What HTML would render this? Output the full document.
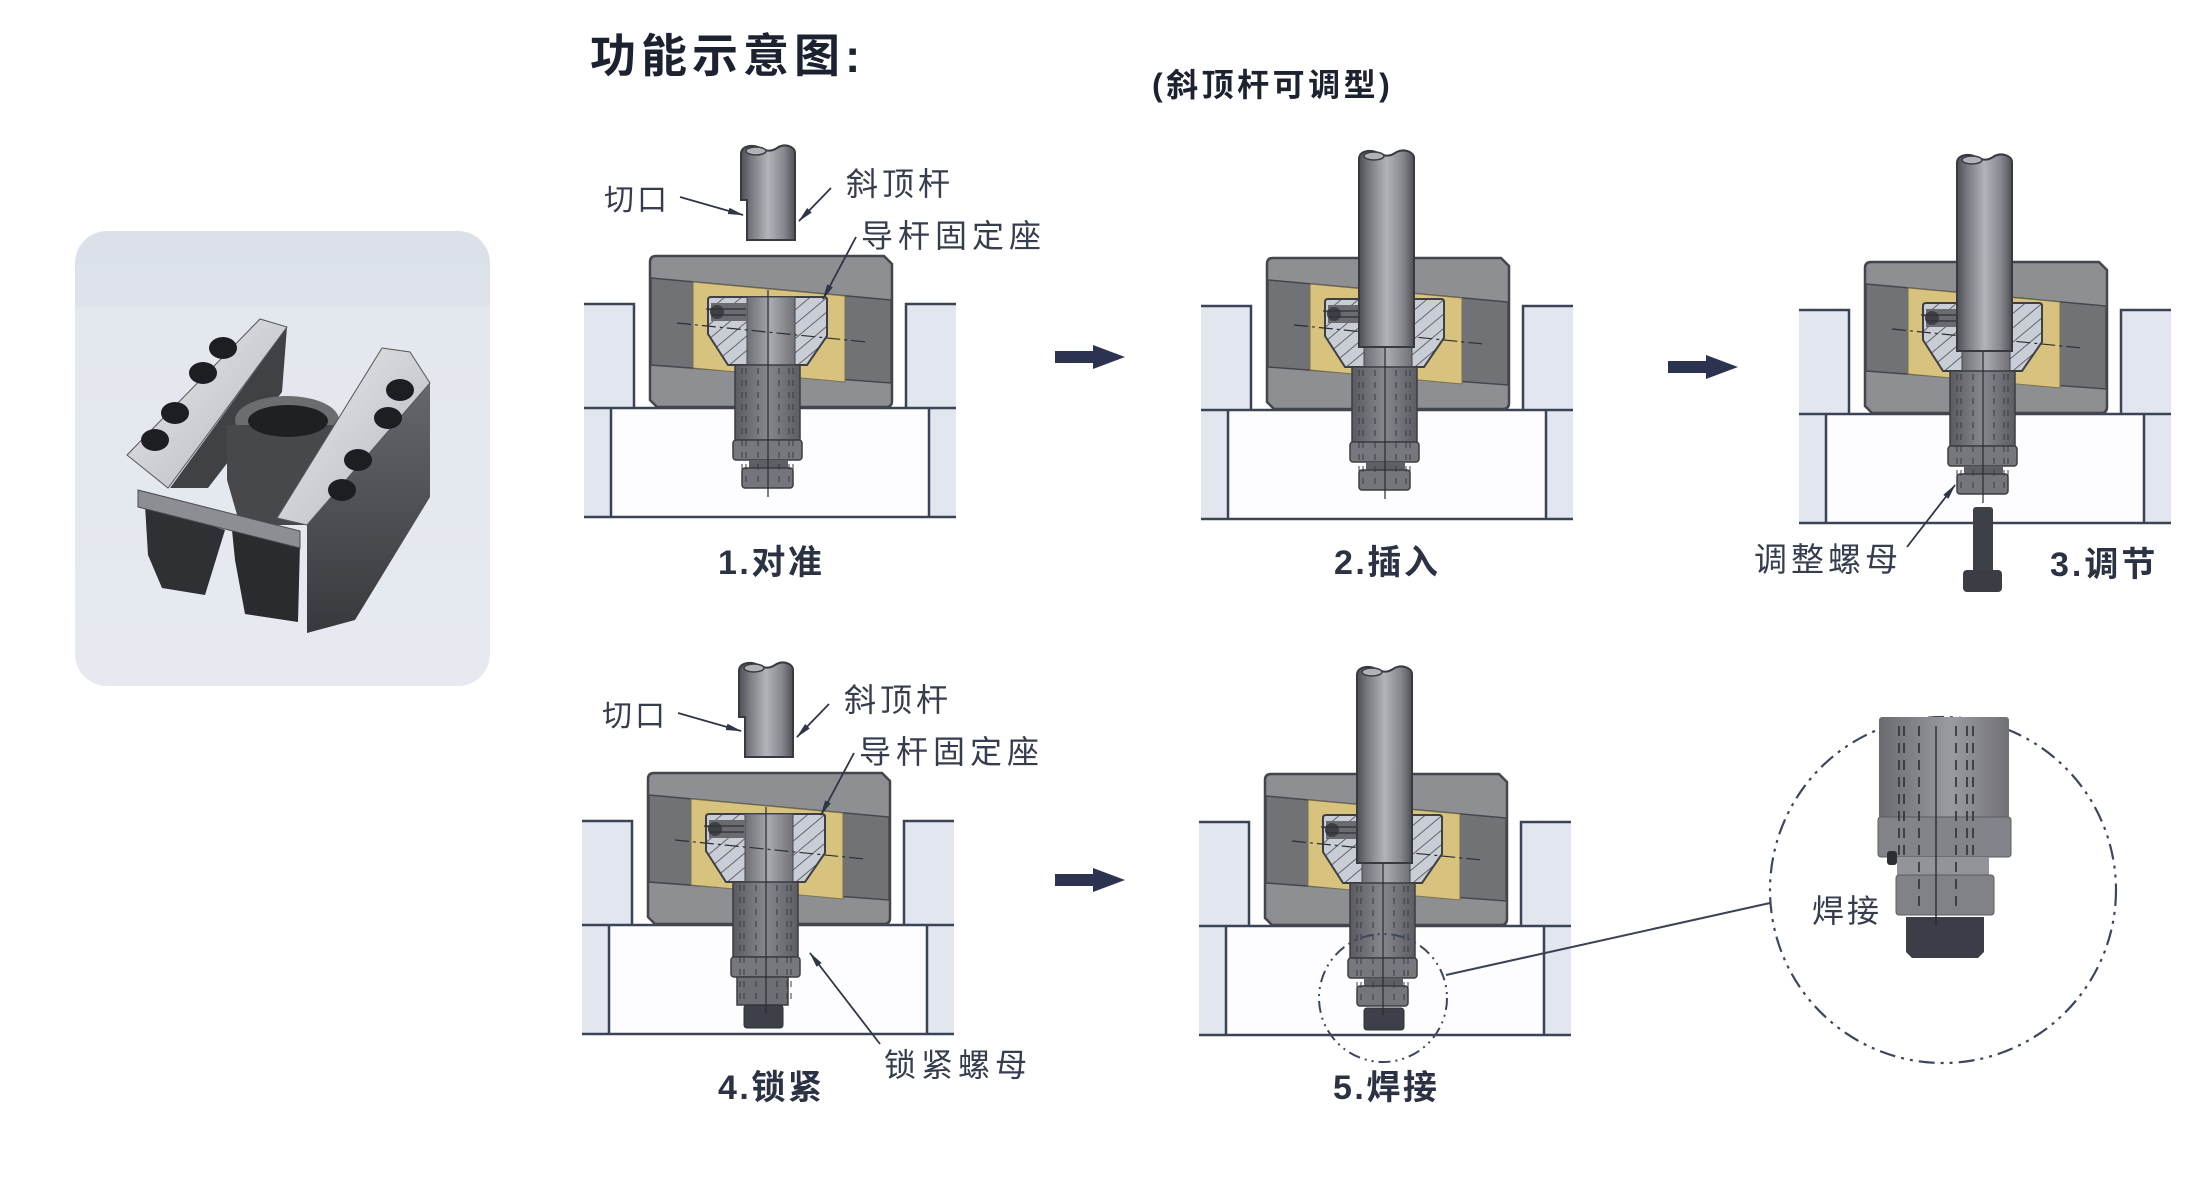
<!DOCTYPE html>
<html><head><meta charset="utf-8"><title>功能示意图</title>
<style>
html,body{margin:0;padding:0;background:#fff;}
svg{display:block;}
.t{font-family:"Liberation Sans","Noto Sans CJK SC",sans-serif;fill:#363d4e;}
.b{font-family:"Liberation Sans","Noto Sans CJK SC",sans-serif;font-weight:bold;fill:#2b3244;}
</style></head>
<body>
<svg width="2212" height="1186" viewBox="0 0 2212 1186" xmlns="http://www.w3.org/2000/svg">
<defs>
  <linearGradient id="rodG" x1="0" y1="0" x2="1" y2="0">
    <stop offset="0" stop-color="#4d4f55"/><stop offset="0.2" stop-color="#7a7c82"/>
    <stop offset="0.5" stop-color="#b2b4ba"/><stop offset="0.8" stop-color="#85878d"/>
    <stop offset="1" stop-color="#4f5157"/>
  </linearGradient>
  <linearGradient id="thrG" x1="0" y1="0" x2="1" y2="0">
    <stop offset="0" stop-color="#5a5b60"/><stop offset="0.5" stop-color="#86878c"/><stop offset="1" stop-color="#5c5d62"/>
  </linearGradient>
  <linearGradient id="headG" x1="0" y1="0" x2="1" y2="0">
    <stop offset="0" stop-color="#6e6f74"/><stop offset="0.5" stop-color="#a8a9ae"/><stop offset="1" stop-color="#707176"/>
  </linearGradient>
  <linearGradient id="cylG" x1="0" y1="0" x2="1" y2="0">
    <stop offset="0" stop-color="#6a6b6f"/><stop offset="0.55" stop-color="#9a9ba0"/><stop offset="1" stop-color="#707175"/>
  </linearGradient>
  <linearGradient id="faceG" x1="0" y1="0" x2="1" y2="1">
    <stop offset="0" stop-color="#e9eaed"/><stop offset="1" stop-color="#b4b7bd"/>
  </linearGradient>
  <linearGradient id="sideG" x1="0" y1="0" x2="0" y2="1">
    <stop offset="0" stop-color="#66676c"/><stop offset="1" stop-color="#38393d"/>
  </linearGradient>
  <linearGradient id="bgG" x1="0" y1="0" x2="0" y2="1">
    <stop offset="0" stop-color="#dce1e9"/><stop offset="0.16" stop-color="#dde2ea"/>
    <stop offset="0.17" stop-color="#e3e7ee"/><stop offset="1" stop-color="#e6eaf0"/>
  </linearGradient>
  <pattern id="hatch" patternUnits="userSpaceOnUse" width="11" height="11" patternTransform="rotate(50)">
    <rect width="11" height="11" fill="#c9cdd5"/>
    <line x1="0" y1="0" x2="0" y2="11" stroke="#4a4b50" stroke-width="1.6"/>
  </pattern>
  <marker id="ah" markerUnits="userSpaceOnUse" markerWidth="16" markerHeight="8" refX="15" refY="4" orient="auto">
    <path d="M0,0.8 L16,4 L0,7.2 Z" fill="#2f3648"/>
  </marker>

  <g id="plates">
    <rect x="584" y="304" width="50" height="104" fill="#e2e7ef"/>
    <rect x="906" y="304" width="50" height="104" fill="#e2e7ef"/>
    <rect x="584" y="408" width="27" height="109" fill="#e2e7ef"/>
    <rect x="929" y="408" width="27" height="109" fill="#e2e7ef"/>
    <rect x="611" y="408" width="318" height="109" fill="#fdfdff"/>
    <g stroke="#3b4457" stroke-width="2.5" fill="none">
      <path d="M584 304 H634 V408"/>
      <path d="M956 304 H906 V408"/>
      <line x1="584" y1="408" x2="956" y2="408"/>
      <line x1="584" y1="517" x2="956" y2="517"/>
      <line x1="611" y1="408" x2="611" y2="517"/>
      <line x1="929" y1="408" x2="929" y2="517"/>
    </g>
  </g>

  <g id="core">
    <path d="M656 256 H884 L892 264 V401 Q892 407 886 407 H657 L650 400 V262 Q650 256 656 256 Z" fill="#8e8f93" stroke="#45464b" stroke-width="2.5"/>
    <polygon points="651,278 891,300 891,383 651,365" fill="#717276" stroke="#45464b" stroke-width="1.5"/>
    <polygon points="693,282 845,296 845,382 693,368" fill="#d7c27e" stroke="#7a7150" stroke-width="1"/>
    <path d="M711 297 H824 Q827 297 827 300 V336 L807 365 H728 L708 334 V300 Q708 297 711 297 Z" fill="url(#hatch)" stroke="#3e3f44" stroke-width="2"/>
    <rect x="747" y="297" width="48" height="68" fill="url(#headG)" stroke="#45464b" stroke-width="1"/>
    <rect x="711" y="303" width="36" height="18" fill="#6a6b70"/>
    <circle cx="717" cy="312" r="7" fill="#3f4045"/>
    <g stroke="#2f3035" stroke-width="1.2">
      <line x1="706" y1="309" x2="746" y2="309"/><line x1="712" y1="315" x2="746" y2="315"/>
    </g>
    <line x1="677" y1="323" x2="867" y2="342" stroke="#2d2e33" stroke-width="1.2" stroke-dasharray="14 4 3 4"/>
    <rect x="735" y="365" width="65" height="75" fill="url(#thrG)" stroke="#3c3d42" stroke-width="1.5"/>
    <rect x="733" y="440" width="69" height="20" rx="3" fill="#77787d" stroke="#3c3d42" stroke-width="1.5"/>
  </g>
  <g id="sn">
    <rect x="749" y="460" width="39" height="8" fill="#5e5f64"/>
    <rect x="742" y="468" width="51" height="20" rx="3" fill="#75767b" stroke="#3c3d42" stroke-width="1.5"/>
  </g>
  <g id="dl" stroke="#3a3b40" stroke-width="1" stroke-dasharray="6 6" fill="none">
    <line x1="742" y1="368" x2="742" y2="486"/><line x1="746" y1="368" x2="746" y2="486"/>
    <line x1="758" y1="368" x2="758" y2="486"/><line x1="779" y1="368" x2="779" y2="486"/>
    <line x1="789" y1="368" x2="789" y2="486"/><line x1="793" y1="368" x2="793" y2="486"/>
  </g>
  <line id="cl" x1="768" y1="290" x2="768" y2="497" stroke="#2b2c31" stroke-width="1.2"/>

  <g id="rodA">
    <path d="M741 154 C741 146 752 144 760 148 C766 151 771 152 777 148 C784 143 795 146 795 153 V240 H747 V200 H741 Z" fill="url(#rodG)" stroke="#383a40" stroke-width="2"/>
    <ellipse cx="756" cy="151" rx="10" ry="4" fill="#b0b2b7" stroke="#383a40" stroke-width="1.5"/>
  </g>
  <g id="rodB">
    <path d="M742 157 C742 149 753 147 761 151 C767 154 772 155 778 151 C785 146 797 149 797 156 V345 H742 Z" fill="url(#rodG)" stroke="#383a40" stroke-width="2"/>
    <ellipse cx="757" cy="154" rx="10" ry="4" fill="#b0b2b7" stroke="#383a40" stroke-width="1.5"/>
  </g>
</defs>

<!-- Title -->
<text class="b" x="590" y="72" font-size="46" style="letter-spacing:5px;fill:#1d2230">功能示意图:</text>
<text class="b" x="1152" y="96" font-size="32" style="letter-spacing:3.5px;fill:#1d2230">(斜顶杆可调型)</text>

<!-- Photo -->
<rect x="75" y="231" width="415" height="455" rx="32" fill="url(#bgG)"/>
<g>
  <polygon points="287,327 282,392 208,488 170,488" fill="#404145"/>
  <ellipse cx="287" cy="420" rx="52" ry="24" fill="#6c6d71"/>
  <polygon points="227,425 337,425 330,490 313,525 240,525 227,480" fill="#47484c"/>
  <ellipse cx="288" cy="421" rx="40" ry="16" fill="#1f2023"/>
  <polygon points="127,455 260,319 287,327 168,488" fill="url(#faceG)" stroke="#55565a" stroke-width="1"/>
  <polygon points="430,383 430,497 355,620 307,633 307,525" fill="url(#sideG)"/>
  <polygon points="382,348 410,352 430,383 307,525 277,518" fill="url(#faceG)" stroke="#55565a" stroke-width="1"/>
  <polygon points="145,505 225,530 205,595 162,588 148,555" fill="#2f3034"/>
  <polygon points="232,530 300,544 298,622 245,614 235,560" fill="#2a2b2f"/>
  <polygon points="138,490 300,531 300,548 138,507" fill="#8c8e93" stroke="#4a4b4f" stroke-width="1"/>
  <g fill="#1d1e21">
    <ellipse cx="223" cy="348" rx="14" ry="11"/><ellipse cx="203" cy="373" rx="14" ry="11"/>
    <ellipse cx="175" cy="413" rx="14" ry="11"/><ellipse cx="155" cy="440" rx="14" ry="11"/>
    <ellipse cx="400" cy="390" rx="14" ry="11"/><ellipse cx="388" cy="418" rx="14" ry="11"/>
    <ellipse cx="358" cy="460" rx="14" ry="11"/><ellipse cx="342" cy="490" rx="14" ry="11"/>
  </g>
</g>

<!-- Panel 1 -->
<g>
  <use href="#plates"/><use href="#core"/><use href="#sn"/><use href="#dl"/><use href="#cl"/><use href="#rodA"/>
</g>
<text class="t" x="604" y="210" font-size="30" style="letter-spacing:3px">切口</text>
<text class="t" x="846" y="195" font-size="32" style="letter-spacing:4px">斜顶杆</text>
<text class="t" x="861" y="247" font-size="32" style="letter-spacing:5px">导杆固定座</text>
<g stroke="#2f3648" stroke-width="1.8" fill="none" marker-end="url(#ah)">
  <line x1="680" y1="197" x2="743" y2="215"/>
  <line x1="831" y1="188" x2="799" y2="221"/>
  <line x1="856" y1="237" x2="823" y2="299"/>
</g>
<text class="b" x="718" y="574" font-size="34" style="letter-spacing:2.5px">1.对准</text>
<polygon points="1055,351 1093,351 1093,345 1125,357 1093,369 1093,363 1055,363" fill="#2b3350"/>

<!-- Panel 2 -->
<g transform="translate(617,2)">
  <use href="#plates"/><use href="#core"/><use href="#sn"/><use href="#dl"/><use href="#cl"/><use href="#rodB"/>
</g>
<text class="b" x="1334" y="574" font-size="34" style="letter-spacing:2.5px">2.插入</text>
<polygon points="1668,361 1706,361 1706,355 1738,367 1706,379 1706,373 1668,373" fill="#2b3350"/>

<!-- Panel 3 -->
<g transform="translate(1215,6)">
  <use href="#plates"/><use href="#core"/><use href="#sn"/><use href="#dl"/><use href="#cl"/><use href="#rodB"/>
  <rect x="758" y="501" width="20" height="66" rx="3" fill="#3e4047"/>
  <rect x="748" y="564" width="39" height="22" rx="4" fill="#3b3d44"/>
</g>
<text class="t" x="1754" y="571" font-size="33" style="letter-spacing:4px">调整螺母</text>
<line x1="1907" y1="547" x2="1955" y2="485" stroke="#2f3648" stroke-width="1.8" marker-end="url(#ah)"/>
<text class="b" x="2050" y="576" font-size="34" style="letter-spacing:3px">3.调节</text>

<!-- Panel 4 -->
<g transform="translate(-2,517)">
  <use href="#plates"/><use href="#core"/>
  <rect x="739" y="460" width="51" height="28" fill="#6e6f74" stroke="#3c3d42" stroke-width="1.5"/>
  <rect x="746" y="488" width="39" height="23" rx="3" fill="#3d4048" stroke="#2c2e33" stroke-width="1"/>
  <use href="#dl"/><use href="#cl"/><use href="#rodA"/>
</g>
<text class="t" x="602" y="726" font-size="30" style="letter-spacing:3px">切口</text>
<text class="t" x="844" y="711" font-size="32" style="letter-spacing:4px">斜顶杆</text>
<text class="t" x="859" y="763" font-size="32" style="letter-spacing:5px">导杆固定座</text>
<g stroke="#2f3648" stroke-width="1.8" fill="none" marker-end="url(#ah)">
  <line x1="678" y1="713" x2="741" y2="731"/>
  <line x1="829" y1="704" x2="797" y2="737"/>
  <line x1="854" y1="753" x2="821" y2="815"/>
  <line x1="880" y1="1044" x2="810" y2="953"/>
</g>
<text class="t" x="884" y="1076" font-size="32" style="letter-spacing:5px">锁紧螺母</text>
<text class="b" x="718" y="1099" font-size="34" style="letter-spacing:2.5px">4.锁紧</text>
<polygon points="1055,874 1093,874 1093,868 1125,880 1093,892 1093,886 1055,886" fill="#2b3350"/>

<!-- Panel 5 -->
<g transform="translate(615,518)">
  <use href="#plates"/><use href="#core"/><use href="#sn"/>
  <rect x="749" y="490" width="40" height="22" rx="3" fill="#3d4048" stroke="#2c2e33" stroke-width="1"/>
  <use href="#dl"/><use href="#cl"/><use href="#rodB"/>
</g>
<circle cx="1383" cy="998" r="64" fill="none" stroke="#3d4660" stroke-width="2" stroke-dasharray="12 5 2 5 2 5"/>
<line x1="1446" y1="975" x2="1770" y2="903" stroke="#3a4255" stroke-width="2"/>
<text class="b" x="1333" y="1099" font-size="34" style="letter-spacing:2.5px">5.焊接</text>

<!-- Detail circle -->
<circle cx="1943" cy="890" r="173" fill="none" stroke="#3d4660" stroke-width="2.2" stroke-dasharray="16 6 3 6 3 6"/>
<g transform="translate(-11,-9)">
  <rect x="1890" y="726" width="130" height="102" rx="3" fill="url(#cylG)"/>
  <rect x="1889" y="826" width="133" height="40" rx="3" fill="#838489" stroke="#5a5b60" stroke-width="1"/>
  <rect x="1908" y="866" width="92" height="18" fill="#939499"/>
  <rect x="1898" y="860" width="10" height="14" rx="3" fill="#2d2e33"/>
  <rect x="1907" y="884" width="98" height="40" rx="3" fill="#818287" stroke="#5a5b60" stroke-width="1"/>
  <path d="M1917 926 H1995 V961 L1989 967 H1923 L1917 961 Z" fill="#3b3e47"/>
  <g stroke="#2e2f34" stroke-width="1.6" stroke-dasharray="10 7" fill="none">
    <line x1="1910" y1="735" x2="1910" y2="870"/><line x1="1915" y1="735" x2="1915" y2="870"/>
    <line x1="1930" y1="735" x2="1930" y2="920"/><line x1="1967" y1="735" x2="1967" y2="920"/>
    <line x1="1978" y1="735" x2="1978" y2="870"/><line x1="1984" y1="735" x2="1984" y2="870"/>
  </g>
  <line x1="1947" y1="735" x2="1947" y2="935" stroke="#2b2c31" stroke-width="1.4"/>
</g>
<text class="t" x="1812" y="922" font-size="32" style="letter-spacing:3px">焊接</text>
</svg>
</body></html>
